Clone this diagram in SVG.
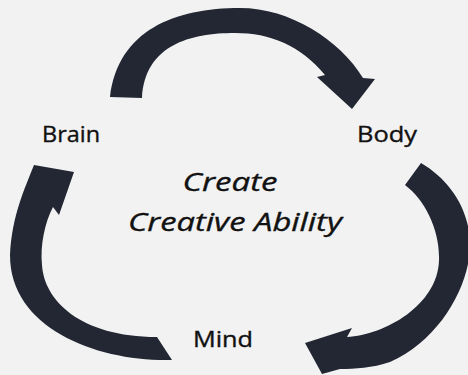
<svg xmlns="http://www.w3.org/2000/svg" width="468" height="375" viewBox="0 0 468 375">
  <style>
    .arrow { fill: #222733; stroke: none; }
    .label { font-family: "Open Sans", "Liberation Sans", sans-serif; font-size: 21px; fill: #111111; stroke: #111111; stroke-width: 0.35; }
    .title { font-family: "Open Sans", "Liberation Sans", sans-serif; font-size: 26px; font-style: italic; fill: #111111; stroke: #111111; stroke-width: 0.35; text-anchor: middle; }
  </style>
  <rect width="468" height="375" fill="#f2f2f2"/>

  <!-- curved block arrows forming the cycle -->
  <g id="connectors">
    <!-- Brain to Body, over the top -->
    <path class="arrow" d="M110,97 C118,30 175,8 240,8 C290,8 340,40 363,78 L375,79 L352,109 L317,77 L325,75 C300,45 270,33 235,33 C190,33 145,45 142,98 Z"/>
    <!-- Body to Mind, down the right side -->
    <path class="arrow" d="M421,163 C450,180 470,210 470,245 C470,285 440,340 390,362 C372,368 355,369 340,369 L322,374 L305,343 L352,328 L347,337 C385,335 438,305 439,260 C440,230 425,200 405,185 Z"/>
    <!-- Mind to Brain, up the left side -->
    <path class="arrow" d="M157,337 C80,337 44,300 42,265 C40,245 45,222 53,207 L59,215 L74,172 L34,165 C25,188 12,215 10,255 C10,330 100,362 172,360 Z"/>
  </g>

  <g id="node-brain">
    <text class="label" x="42" y="142" textLength="58" lengthAdjust="spacingAndGlyphs">Brain</text>
  </g>
  <g id="node-body">
    <text class="label" x="357" y="142" textLength="60" lengthAdjust="spacingAndGlyphs">Body</text>
  </g>
  <g id="node-mind">
    <text class="label" x="193" y="347" textLength="60" lengthAdjust="spacingAndGlyphs">Mind</text>
  </g>
  <g id="node-center">
    <text class="title" x="230" y="191" textLength="95" lengthAdjust="spacingAndGlyphs">Create</text>
    <text class="title" x="235" y="231" textLength="214" lengthAdjust="spacingAndGlyphs">Creative Ability</text>
  </g>
</svg>
